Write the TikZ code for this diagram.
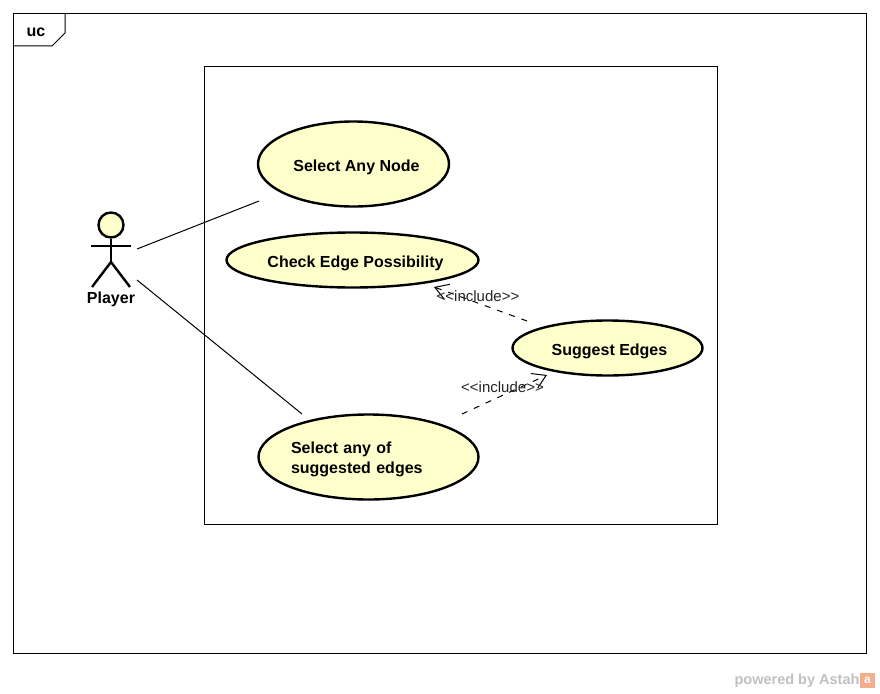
\documentclass[tikz,border=0pt]{standalone}
\usepackage{fontspec}
\setmainfont{Liberation Sans}
\usetikzlibrary{positioning}
\usetikzlibrary{arrows.meta}
\usetikzlibrary{shapes}
\definecolor{caseFill}{HTML}{FFFFCC}
\definecolor{astahGrey}{HTML}{C0C0C0}
\definecolor{astahOrange}{HTML}{F4AE8C}
\tikzset{
    usecase/.style={ellipse,draw=black,fill=caseFill,line width=2.4pt,inner sep=0pt,text=black,font=\fontsize{16}{20}\selectfont\bfseries},
    oneline/.style={text height=14pt,text depth=0pt},
    stereo/.style={inner sep=0pt,font=\fontsize{15}{17}\selectfont,text=black!85},
    link/.style={line width=1pt},
    incl/.style={line width=1pt,dash pattern=on 6pt off 7pt,-{Straight Barb[length=13pt,width=16pt,line width=1pt]}},
    stick/.style={line width=2.4pt}
}

\begin{document}
\begin{tikzpicture}[x=1pt,y=-1pt]
        \useasboundingbox (0,0) rectangle (880,693);

        \draw[line width=1pt] (13.5,13.5) rectangle (866.5,653.5);
        \draw[line width=1pt] (13.5,46) -- (52,46) -- (65,33) -- (65,13.5);
        \node (frameLabel) at (36,32) [font=\fontsize{16}{18}\selectfont\bfseries] {uc};
        \draw[line width=1pt] (204.5,66.5) rectangle (717.5,524.5);

        \node (caseSelect) at (353.5,164) [usecase,oneline,minimum width=191pt,minimum height=85pt] {\hspace*{6pt}Select Any Node};
        \node (caseCheck) at (352.5,260) [usecase,oneline,minimum width=252pt,minimum height=55pt] {\makebox[0pt]{\hspace*{6pt}Check Edge Possibility}};
        \node (caseSuggest) at (607.5,348) [usecase,oneline,minimum width=190pt,minimum height=55pt] {\hspace*{4pt}Suggest Edges};
        \node (caseEdges) at (368.5,457) [usecase,minimum width=220pt,minimum height=85pt,text width=155pt,align=left] {\rule{0pt}{17pt}Select any of\\suggested edges};

        % actor
        \node (playerHead) at (111,225) [circle,draw=black,fill=caseFill,stick,minimum size=25pt,inner sep=0pt] {};
        \coordinate (playerHip) at (111,262);
        \draw[stick] (playerHead) -- (playerHip);
        \draw[stick] ([xshift=-20pt,yshift=-21pt]playerHead.center) -- ([xshift=20pt,yshift=-21pt]playerHead.center);
        \draw[stick] ([xshift=-19pt,yshift=-25pt]playerHip) -- (playerHip) -- ([xshift=19pt,yshift=-25pt]playerHip);
        \node (player) at (111,299) [inner sep=0pt,font=\fontsize{16}{18}\selectfont\bfseries] {Player};

        \draw[link] ([xshift=26pt,yshift=-24pt]playerHead.center) -- ([xshift=-94.5pt,yshift=-37pt]caseSelect.center);
        \draw[link] ([xshift=26pt,yshift=-55pt]playerHead.center) -- ([xshift=-66.5pt,yshift=43pt]caseEdges.center);

        \draw[incl] ([xshift=-80.5pt,yshift=27pt]caseSuggest.center) -- ([xshift=81.5pt,yshift=-27pt]caseCheck.center);
        \draw[incl] ([xshift=93.5pt,yshift=43pt]caseEdges.center) -- ([xshift=-60.5pt,yshift=-27pt]caseSuggest.center);

        \node (labelTop) at (478,296) [stereo] {{<}{<}include{>}{>}};
        \node (labelBottom) at (502.5,387) [stereo] {{<}{<}include{>}{>}};

        \node (astahMark) at (797,680.5) [inner sep=0pt,text=astahGrey,font=\fontsize{14.5}{17}\selectfont\bfseries] {powered by Astah};
        \node (astahIcon) at (867.5,680.5) [fill=astahOrange,minimum size=15pt,inner sep=0pt,text=white,font=\fontsize{12}{12}\selectfont\bfseries] {a};
\end{tikzpicture}
\end{document}
